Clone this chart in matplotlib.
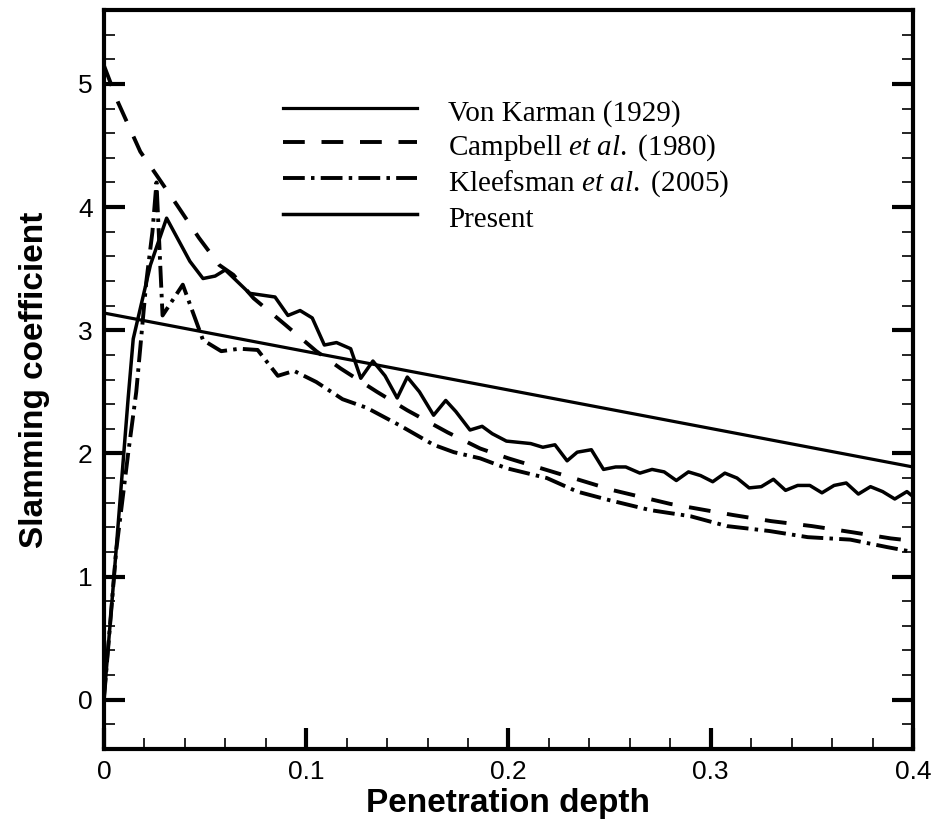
import matplotlib
matplotlib.use('Agg')
from matplotlib import pyplot as plt
from matplotlib.ticker import MultipleLocator, FuncFormatter

# values
von_karman_x = [0.0, 0.4]
von_karman_y = [3.14, 1.89]

campbell_x = [0.0, 0.007, 0.018, 0.026, 0.036, 0.047, 0.057, 0.064, 0.074, 0.09,
              0.105, 0.117, 0.135, 0.15, 0.17, 0.186, 0.2, 0.22, 0.236, 0.252,
              0.28, 0.311, 0.33, 0.35, 0.37, 0.389, 0.4]
campbell_y = [5.15, 4.85, 4.45, 4.26, 4.02, 3.75, 3.53, 3.45, 3.26, 3.04,
              2.83, 2.69, 2.5, 2.35, 2.17, 2.04, 1.96, 1.86, 1.78, 1.70,
              1.59, 1.50, 1.45, 1.41, 1.36, 1.31, 1.29]

kleefsman_x = [0.0, 0.003, 0.006, 0.012, 0.016, 0.021, 0.024, 0.026, 0.029, 0.039,
               0.049, 0.058, 0.067, 0.076, 0.086, 0.094, 0.105, 0.118, 0.130, 0.146,
               0.163, 0.173, 0.186, 0.199, 0.219, 0.234, 0.25, 0.27, 0.29, 0.308,
               0.329, 0.348, 0.369, 0.387, 0.4]
kleefsman_y = [0.0, 0.6, 1.2, 2.0, 2.5, 3.4, 3.8, 4.2, 3.12, 3.37,
               2.92, 2.83, 2.85, 2.84, 2.63, 2.67, 2.58, 2.44, 2.37, 2.23,
               2.07, 2.01, 1.96, 1.88, 1.80, 1.69, 1.62, 1.54, 1.49, 1.41,
               1.37, 1.32, 1.30, 1.24, 1.20]

present_x = [0.0, 0.005, 0.012, 0.0145, 0.023, 0.031, 0.0425, 0.049, 0.055, 0.060,
             0.072, 0.0846, 0.091, 0.097, 0.103, 0.109, 0.115, 0.122, 0.127, 0.133,
             0.139, 0.145, 0.150, 0.156, 0.163, 0.169, 0.174, 0.181, 0.187, 0.192,
             0.199, 0.205, 0.211, 0.217, 0.223, 0.229, 0.234, 0.241, 0.247, 0.253,
             0.258, 0.265, 0.271, 0.277, 0.283, 0.289, 0.295, 0.301, 0.307, 0.313,
             0.319, 0.325, 0.331, 0.337, 0.343, 0.349, 0.355, 0.361, 0.367, 0.373,
             0.379, 0.385, 0.391, 0.397, 0.4]
present_y = [0.0, 1.0, 2.45, 2.93, 3.53, 3.91, 3.56, 3.42, 3.44, 3.49,
             3.30, 3.27, 3.12, 3.16, 3.10, 2.88, 2.90, 2.85, 2.61, 2.75,
             2.63, 2.45, 2.62, 2.50, 2.31, 2.43, 2.34, 2.19, 2.22, 2.16,
             2.10, 2.09, 2.08, 2.05, 2.07, 1.94, 2.01, 2.03, 1.87, 1.89,
             1.89, 1.84, 1.87, 1.85, 1.78, 1.85, 1.82, 1.77, 1.84, 1.80,
             1.72, 1.73, 1.79, 1.70, 1.74, 1.74, 1.68, 1.74, 1.76, 1.67,
             1.73, 1.69, 1.63, 1.69, 1.65]

labels = ['Von Karman (1929)',
          r'Campbell $\mathit{et\ al.}$ (1980)',
          r'Kleefsman $\mathit{et\ al.}$ (2005)',
          'Present']


def main():
    plt.rcParams['font.family'] = 'Liberation Sans'
    plt.rcParams['mathtext.fontset'] = 'custom'
    plt.rcParams['mathtext.rm'] = 'Liberation Serif'
    plt.rcParams['mathtext.it'] = 'Liberation Serif:italic'

    fig = plt.figure(figsize=(9.36, 8.22), dpi=100)
    ax = fig.add_axes([0.111, 0.0888, 0.8644, 0.899])

    ax.plot(von_karman_x, von_karman_y, '-', color='black', lw=2.3, label=labels[0])
    ax.plot(campbell_x, campbell_y, color='black', lw=2.8,
            linestyle=(0, (5.6, 4.3)), label=labels[1])
    ax.plot(kleefsman_x, kleefsman_y, color='black', lw=2.8,
            linestyle=(0, (5.6, 1.6, 0.9, 1.6)), label=labels[2])
    ax.plot(present_x, present_y, '-', color='black', lw=2.5, label=labels[3])

    ax.set_xlim(0, 0.4)
    ax.set_ylim(-0.4, 5.6)
    ax.xaxis.set_major_locator(MultipleLocator(0.1))
    ax.xaxis.set_minor_locator(MultipleLocator(0.02))
    ax.yaxis.set_major_locator(MultipleLocator(1))
    ax.yaxis.set_minor_locator(MultipleLocator(0.2))
    ax.xaxis.set_major_formatter(FuncFormatter(lambda v, p: '%g' % round(v, 3)))
    ax.yaxis.set_major_formatter(FuncFormatter(lambda v, p: '%g' % round(v, 3)))

    for s in ax.spines.values():
        s.set_linewidth(3)
    ax.tick_params(which='both', direction='in', top=False, right=True,
                   labelsize=19, pad=8)
    ax.tick_params(which='major', length=15, width=3)
    ax.tick_params(which='minor', length=8, width=1.2)

    ax.set_xlabel('Penetration depth', fontsize=24, fontweight='bold', labelpad=3)
    ax.set_ylabel('Slamming coefficient', fontsize=24, fontweight='bold', labelpad=20)

    ax.legend(loc='upper left', bbox_to_anchor=(0.221, 0.884), frameon=False,
              borderpad=0, borderaxespad=0, handlelength=4.6, handletextpad=1.07,
              handleheight=1.2, labelspacing=0.1,
              prop={'family': 'Liberation Serif', 'size': 21})

    fig.savefig('out.png', dpi=100)


if __name__ == "__main__":
    main()
